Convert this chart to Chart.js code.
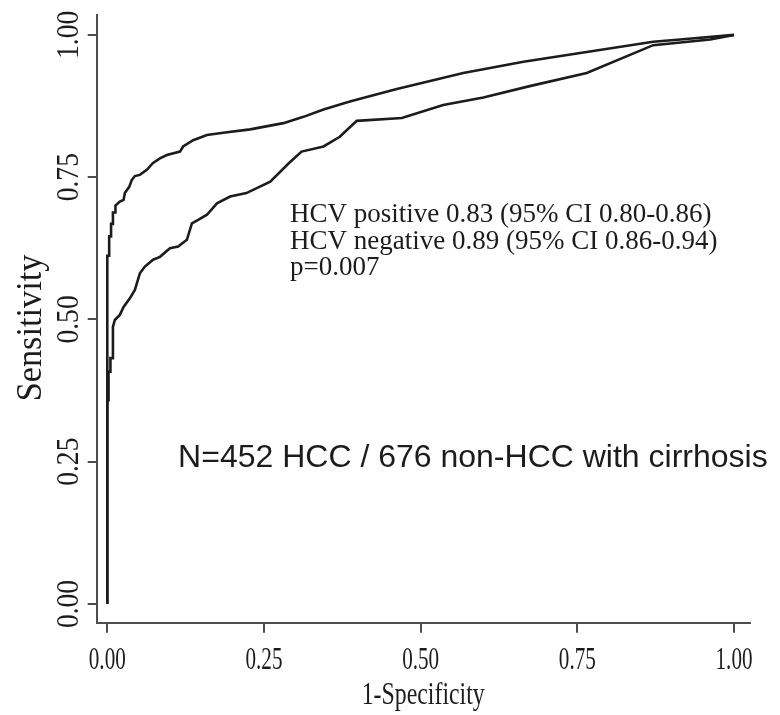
<!DOCTYPE html>
<html>
<head>
<meta charset="utf-8">
<title>ROC curves by HCV status</title>
<script src="https://cdn.jsdelivr.net/npm/chart.js@4.4.1/dist/chart.umd.min.js"></script>
<style>
  html, body { margin: 0; padding: 0; background: #fff; }
  #roc { display: block; }
</style>
</head>
<body>
<canvas id="roc" width="780" height="715"></canvas>
<script>
// ROC points: 1-specificity (x) against sensitivity (y)
const hcvNegFpr = [0, 0, 0.003, 0.003, 0.006, 0.006, 0.009, 0.009, 0.013, 0.013,
  0.020, 0.026, 0.028, 0.035, 0.039, 0.044, 0.052, 0.063, 0.073, 0.084,
  0.095, 0.116, 0.121, 0.137, 0.159, 0.185, 0.228, 0.281, 0.313, 0.345,
  0.387, 0.462, 0.568, 0.664, 0.770, 0.871, 0.914, 1.0];
const hcvNegTpr = [0, 0.612, 0.612, 0.646, 0.646, 0.668, 0.668, 0.688, 0.688, 0.700,
  0.707, 0.710, 0.722, 0.733, 0.745, 0.752, 0.754, 0.763, 0.775, 0.783,
  0.789, 0.795, 0.804, 0.815, 0.824, 0.828, 0.834, 0.845, 0.856, 0.869,
  0.883, 0.905, 0.933, 0.953, 0.971, 0.988, 0.992, 1.0];

const hcvPosFpr = [0, 0, 0.002, 0.002, 0.005, 0.005, 0.009, 0.009, 0.012, 0.020,
  0.026, 0.036, 0.044, 0.052, 0.060, 0.073, 0.084, 0.100, 0.113, 0.127,
  0.135, 0.145, 0.159, 0.175, 0.196, 0.222, 0.260, 0.290, 0.310, 0.345,
  0.371, 0.398, 0.470, 0.536, 0.600, 0.674, 0.765, 0.871, 0.962, 1.0];
const hcvPosTpr = [0, 0.358, 0.358, 0.408, 0.408, 0.432, 0.432, 0.487, 0.499, 0.508,
  0.522, 0.537, 0.552, 0.581, 0.593, 0.605, 0.610, 0.625, 0.628, 0.640,
  0.669, 0.675, 0.684, 0.704, 0.716, 0.722, 0.742, 0.775, 0.795, 0.804,
  0.821, 0.849, 0.854, 0.877, 0.890, 0.910, 0.933, 0.982, 0.992, 1.0];

const tickValues = [0, 0.25, 0.5, 0.75, 1];
const tickLabels = ['0.00', '0.25', '0.50', '0.75', '1.00'];

const aucLines = [
  'HCV positive 0.83 (95% CI 0.80-0.86)',
  'HCV negative 0.89 (95% CI 0.86-0.94)',
  'p=0.007'
];
const sampleNote = 'N=452 HCC / 676 non-HCC with cirrhosis';
const xTitle = '1-Specificity';
const yTitle = 'Sensitivity';

const ink = '#1c1c1c';
const axisInk = '#4d4d4d';
const serif = '"Liberation Serif", "Times New Roman", serif';

function toPoints(xs, ys) {
  return xs.map((x, i) => ({ x: x, y: ys[i] }));
}

// draws text squeezed along its own direction (stata-ish narrow serif)
function squeezed(ctx, text, x, y, angle, squeeze, align) {
  ctx.save();
  ctx.translate(x, y);
  ctx.rotate(angle);
  ctx.scale(squeeze, 1);
  ctx.textAlign = align || 'center';
  ctx.textBaseline = 'alphabetic';
  ctx.fillText(text, 0, 0);
  ctx.restore();
}

const textPlugin = {
  id: 'rocText',
  afterDraw(chart) {
    const ctx = chart.ctx;
    const xs = chart.scales.x;
    const ys = chart.scales.y;
    const area = chart.chartArea;
    ctx.save();
    ctx.fillStyle = ink;

    // tick labels
    ctx.font = '32px ' + serif;
    tickValues.forEach((v, i) => {
      squeezed(ctx, tickLabels[i], xs.getPixelForValue(v), area.bottom + 46.5, 0, 0.66);
    });
    ctx.font = '31px ' + serif;
    tickValues.forEach((v, i) => {
      squeezed(ctx, tickLabels[i], area.left - 18.5, ys.getPixelForValue(v), -Math.PI / 2, 0.89);
    });

    // axis titles
    ctx.font = '32px ' + serif;
    squeezed(ctx, xTitle, (area.left + area.right) / 2, area.bottom + 81.5, 0, 0.745);
    ctx.font = '35px ' + serif;
    squeezed(ctx, yTitle, 41, area.top + 313, -Math.PI / 2, 0.98);

    // AUC summary
    ctx.font = '27px ' + serif;
    const ax = xs.getPixelForValue(0.2915);
    const ay = ys.getPixelForValue(0.671);
    aucLines.forEach((line, i) => {
      squeezed(ctx, line, ax, ay + i * 26.5, 0, 1, 'left');
    });

    // sample size note
    ctx.font = '32px "Liberation Sans", Arial, sans-serif';
    squeezed(ctx, sampleNote, xs.getPixelForValue(0.113), ys.getPixelForValue(0.241), 0, 1, 'left');

    ctx.restore();
  }
};

function curve(label, xs, ys) {
  return {
    label: label,
    data: toPoints(xs, ys),
    showLine: true,
    borderColor: ink,
    borderWidth: 2.6,
    pointRadius: 0,
    tension: 0,
    fill: false
  };
}

function axis(min, max, tickLength) {
  return {
    type: 'linear',
    min: min,
    max: max,
    afterBuildTicks: scale => {
      scale.ticks = tickValues.map(v => ({ value: v }));
    },
    grid: {
      drawOnChartArea: false,
      drawTicks: true,
      tickLength: tickLength,
      color: axisInk,
      lineWidth: 2
    },
    border: { display: true, color: axisInk, width: 2 },
    ticks: { display: false }
  };
}

new Chart(document.getElementById('roc'), {
  type: 'scatter',
  data: {
    datasets: [
      curve('HCV negative', hcvNegFpr, hcvNegTpr),
      curve('HCV positive', hcvPosFpr, hcvPosTpr)
    ]
  },
  options: {
    responsive: false,
    animation: false,
    layout: { padding: { left: 87.7, right: 30.3, top: 15, bottom: 82.3 } },
    plugins: {
      legend: { display: false },
      tooltip: { enabled: false }
    },
    scales: {
      x: axis(-0.0169, 1.025, 10),
      y: axis(-0.0329, 1.035, 9)
    }
  },
  plugins: [textPlugin]
});
</script>
</body>
</html>
